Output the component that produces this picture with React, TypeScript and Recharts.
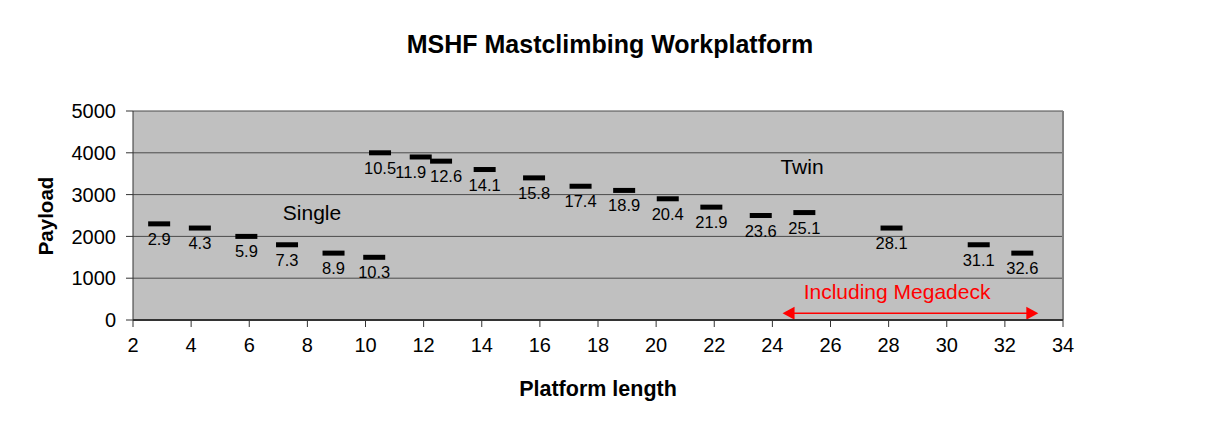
import React from 'react';
import {
  ScatterChart,
  Scatter,
  XAxis,
  YAxis,
  CartesianGrid,
  ReferenceLine,
  ReferenceDot,
  Customized,
} from 'recharts';

const platformLengths = [2.9, 4.3, 5.9, 7.3, 8.9, 10.3, 10.5, 11.9, 12.6, 14.1, 15.8, 17.4, 18.9, 20.4, 21.9, 23.6, 25.1, 28.1, 31.1, 32.6];
const payloads = [2300, 2200, 2000, 1800, 1600, 1500, 4000, 3900, 3800, 3600, 3400, 3200, 3100, 2900, 2700, 2500, 2570, 2200, 1800, 1600];
const xTicks = [2, 4, 6, 8, 10, 12, 14, 16, 18, 20, 22, 24, 26, 28, 30, 32, 34];
const yTicks = [0, 1000, 2000, 3000, 4000, 5000];
const chartTitle = 'MSHF Mastclimbing Workplatform';
const xAxisTitle = 'Platform length';
const yAxisTitle = 'Payload';
const annotationTexts = ['Single', 'Twin', 'Including Megadeck'];
const annotationX = [8.16, 25.02, 28.29];
const annotationY = [2560, 3680, 690];
const annotationColors = ['#000000', '#000000', '#FF0000'];
const megadeckFrom = 24.35;
const megadeckTo = 33.15;
const megadeckArrowY = 160;

const FONT = '"Liberation Sans", Arial, sans-serif';

const data = platformLengths.map((x, i) => ({ x, y: payloads[i] }));

// Shift a label sideways when a neighbouring point is close in both x and y,
// so that neighbouring labels do not collide.
const labelShift = (x: number, y: number) => {
  const i = platformLengths.indexOf(x);
  let s = 0;
  if (i > 0) {
    const px = platformLengths[i - 1];
    const py = payloads[i - 1];
    if (x - px < 1 && Math.abs(y - py) < 300) s += 5;
  }
  if (i < platformLengths.length - 1) {
    const nx = platformLengths[i + 1];
    const ny = payloads[i + 1];
    if (nx - x < 1 && Math.abs(y - ny) < 300) s -= 10;
  }
  return s;
};

const DashMarker = (props: any) => {
  const { cx, cy, payload } = props;
  if (cx == null || cy == null) return null;
  const dx = labelShift(payload.x, payload.y);
  return (
    <g>
      <rect x={cx - 11} y={cy - 2.5} width={22} height={5} fill="#000" />
      <text x={cx + dx} y={cy + 21} textAnchor="middle" fontSize={16.5} fontFamily={FONT} fill="#000">
        {String(payload.x)}
      </text>
    </g>
  );
};

const ArrowShape = (props: any) => {
  const { x1, y1, x2, y2 } = props;
  const h = 12;
  const w = 6.5;
  return (
    <g>
      <line x1={x1 + h - 2} y1={y1} x2={x2 - h + 2} y2={y2} stroke="#FF0000" strokeWidth={1.5} />
      <polygon points={`${x1},${y1} ${x1 + h},${y1 - w} ${x1 + h},${y1 + w}`} fill="#FF0000" />
      <polygon points={`${x2},${y2} ${x2 - h},${y2 - w} ${x2 - h},${y2 + w}`} fill="#FF0000" />
    </g>
  );
};

const Frame = () => (
  <g>
    <line x1={5} y1={5} x2={1209} y2={5} stroke="#1a1a1a" strokeWidth={2} />
    <line x1={6} y1={4} x2={6} y2={429} stroke="#1a1a1a" strokeWidth={2} />
    <text x={610} y={53} textAnchor="middle" fontSize={25} fontWeight="bold" fontFamily={FONT} fill="#000">
      {chartTitle}
    </text>
    <text x={598} y={396} textAnchor="middle" fontSize={21.5} fontWeight="bold" fontFamily={FONT} fill="#000">
      {xAxisTitle}
    </text>
    <text
      x={0}
      y={0}
      transform="translate(53,216) rotate(-90)"
      textAnchor="middle"
      fontSize={20.5}
      fontWeight="bold"
      fontFamily={FONT}
      fill="#000"
    >
      {yAxisTitle}
    </text>
  </g>
);

export default function App() {
  return (
    <div
      style={{
        position: 'relative',
        width: 1209,
        height: 429,
        marginLeft: -8,
        marginTop: -8,
        background: '#fff',
      }}
    >
      <ScatterChart
        width={1209}
        height={429}
        margin={{ top: 111, right: 146, bottom: 69, left: 73 }}
      >
        <CartesianGrid
          horizontal
          vertical={false}
          fill="#C0C0C0"
          stroke="#4a4a4a"
          strokeWidth={1}
          fillOpacity={1}
        />
        <XAxis
          type="number"
          dataKey="x"
          domain={[2, 34]}
          ticks={xTicks}
          interval={0}
          height={40}
          tickSize={7}
          tickMargin={11}
          axisLine={{ stroke: '#333', strokeWidth: 2 }}
          tickLine={{ stroke: '#333' }}
          tick={{ fill: '#000', fontSize: 20, fontFamily: FONT }}
          allowDataOverflow
        />
        <YAxis
          type="number"
          dataKey="y"
          domain={[0, 5000]}
          ticks={yTicks}
          interval={0}
          width={60}
          tickSize={7}
          tickMargin={10}
          axisLine={{ stroke: '#333', strokeWidth: 1 }}
          tickLine={{ stroke: '#333' }}
          tick={{ fill: '#000', fontSize: 20, fontFamily: FONT }}
          allowDataOverflow
        />
        <ReferenceLine x={34} stroke="#808080" strokeWidth={2} />
        <ReferenceLine
          segment={[
            { x: megadeckFrom, y: megadeckArrowY },
            { x: megadeckTo, y: megadeckArrowY },
          ]}
          shape={ArrowShape}
        />
        {annotationTexts.map((t, i) => (
          <ReferenceDot
            key={t}
            x={annotationX[i]}
            y={annotationY[i]}
            r={1}
            fill="none"
            stroke="none"
            label={{ value: t, position: 'center', fill: annotationColors[i], fontSize: 21, fontFamily: FONT }}
          />
        ))}
        <Scatter data={data} shape={DashMarker} isAnimationActive={false} />
        <Customized component={Frame} />
      </ScatterChart>
    </div>
  );
}
